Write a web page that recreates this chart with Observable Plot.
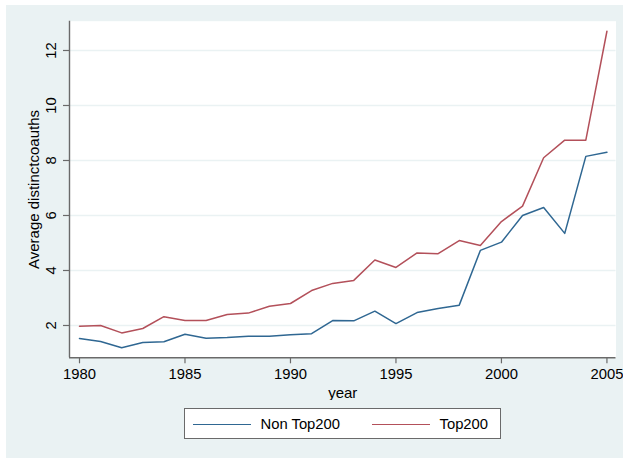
<!DOCTYPE html>
<html>
<head>
<meta charset="utf-8">
<script src="https://cdn.jsdelivr.net/npm/d3@7"></script>
<script src="https://cdn.jsdelivr.net/npm/@observablehq/plot@0.6"></script>
<style>
  html, body { margin: 0; padding: 0; background: #ffffff; }
  body { width: 623px; height: 458px; position: relative; overflow: hidden; font-family: "Liberation Sans", Arial, Helvetica, sans-serif; }
  #wrap { position: absolute; left: 6px; top: 5px; width: 617px; height: 453px; background: #eaf2f3; }
  #legend { position: absolute; left: 177.5px; top: 403px; width: 315px; height: 29px; background: #ffffff; border: 1px solid #6a6a6a; }
  .sw { position: absolute; top: 14.5px; height: 0; border-top: 1.6px solid; }
  .lt { position: absolute; top: 5.5px; font-size: 14.8px; color: #000; white-space: nowrap; line-height: 18px; }
</style>
</head>
<body>
<div id="wrap"><div id="chart"></div>
  <div id="legend">
    <div class="sw" style="left:8px;width:58px;border-color:#2f6792"></div>
    <div class="lt" style="left:76px">Non Top200</div>
    <div class="sw" style="left:187px;width:58px;border-color:#b3505a"></div>
    <div class="lt" style="left:255px">Top200</div>
  </div>
</div>
<script>
const years = [1980,1981,1982,1983,1984,1985,1986,1987,1988,1989,1990,1991,1992,1993,1994,1995,1996,1997,1998,1999,2000,2001,2002,2003,2004,2005];
const nonTop200 = [1.53,1.42,1.19,1.38,1.41,1.68,1.54,1.56,1.61,1.61,1.66,1.70,2.18,2.17,2.52,2.07,2.47,2.62,2.74,4.73,5.03,6.00,6.29,5.35,8.15,8.30];
const top200 = [1.975,2.00,1.73,1.89,2.32,2.18,2.18,2.40,2.45,2.70,2.80,3.27,3.53,3.64,4.38,4.11,4.64,4.61,5.09,4.91,5.78,6.34,8.10,8.74,8.74,12.70];
const seriesNames = ["Non Top200", "Top200"];
const seriesColors = ["#2f6792", "#b3505a"];
const xTicks = [1980,1985,1990,1995,2000,2005];
const yTicks = [2,4,6,8,10,12];
const xTitle = "year";
const yTitle = "Average distinctcoauths";

const data = [];
years.forEach((yr, i) => {
  data.push({year: yr, value: nonTop200[i], series: seriesNames[0]});
  data.push({year: yr, value: top200[i], series: seriesNames[1]});
});

const xDomain = [1979.526, 2005.43];
const yDomain = [0.825, 13.065];
const axisColor = "#6a6a6a";
const font = "Liberation Sans, Arial, Helvetica, sans-serif";

const chart = Plot.plot({
  width: 617,
  height: 395,
  marginLeft: 63,
  marginRight: 7.5,
  marginTop: 15.7,
  marginBottom: 42.7,
  style: {background: "transparent", fontFamily: font, fontSize: "14.8px", color: "#000"},
  x: {domain: xDomain, axis: null},
  y: {domain: yDomain, axis: null},
  color: {domain: seriesNames, range: seriesColors},
  marks: [
    Plot.frame({fill: "#ffffff", stroke: "none"}),
    Plot.gridY(yTicks, {stroke: "#eaf2f3", strokeOpacity: 1, strokeWidth: 1.6}),
    Plot.line(data, {x: "year", y: "value", stroke: "series", strokeWidth: 1.5, z: "series"}),
    Plot.axisX(xTicks, {tickSize: 6, tickPadding: 4.5, stroke: axisColor, strokeWidth: 1.2, fill: "#000", fontSize: 14.8, tickFormat: d => String(d), label: null}),
    Plot.axisY(yTicks, {tickSize: 6, stroke: axisColor, strokeWidth: 1.2, tickFormat: () => "", label: null}),
    Plot.text(yTicks, {frameAnchor: "left", y: d => d, text: d => String(d), rotate: -90, dx: -18.5, textAnchor: "middle", lineAnchor: "middle", fill: "#000", fontSize: 14.8}),
    Plot.ruleY([yDomain[0]], {stroke: axisColor, strokeWidth: 1.4}),
    Plot.ruleX([xDomain[0]], {stroke: axisColor, strokeWidth: 1.4}),
    Plot.text([xTitle], {frameAnchor: "bottom", dy: 35.7, text: d => d, textAnchor: "middle", lineAnchor: "middle", fill: "#000", fontSize: 15}),
    Plot.text([yTitle], {frameAnchor: "left", dx: -35, text: d => d, rotate: -90, textAnchor: "middle", lineAnchor: "middle", fill: "#000", fontSize: 15})
  ]
});
document.getElementById("chart").appendChild(chart);
</script>
</body>
</html>
